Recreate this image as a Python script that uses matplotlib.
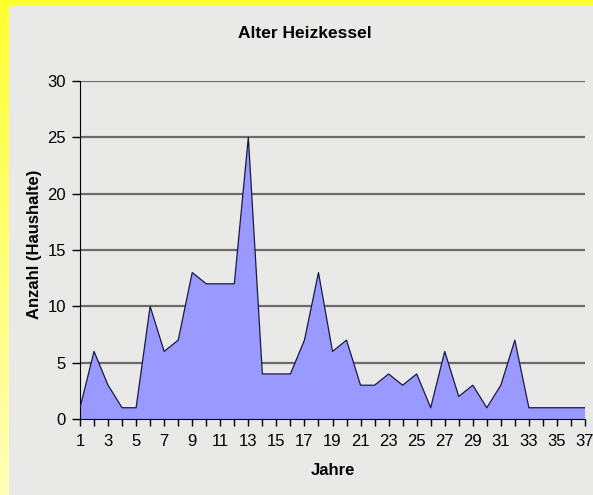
import numpy as np
import matplotlib
matplotlib.use("Agg")
import matplotlib.pyplot as plt
from matplotlib.colors import LinearSegmentedColormap

plt.rcParams['font.family'] = ['Liberation Sans', 'DejaVu Sans']

# data
jahre = list(range(1, 38))
anzahl = [1, 6, 3, 1, 1, 10, 6, 7, 13, 12, 12, 12, 25, 4, 4, 4, 7, 13, 6, 7,
          3, 3, 4, 3, 4, 1, 6, 2, 3, 1, 3, 7, 1, 1, 1, 1, 1]
y_ticks = [0, 5, 10, 15, 20, 25, 30]
x_labels = list(range(1, 38, 2))

W, H = 593, 495
fig = plt.figure(figsize=(W / 100, H / 100), dpi=100)
fig.patch.set_facecolor('#E9E9E7')

# yellow frame strips (left gradient, top solid)
ax_l = fig.add_axes([0, 0, 9 / W, 1])
grad = np.linspace(0, 1, 256).reshape(-1, 1)
cmap = LinearSegmentedColormap.from_list('y', ['#FFFF2E', '#FFFFB8'])
ax_l.imshow(grad, aspect='auto', cmap=cmap, extent=[0, 1, 0, 1], origin='upper')
ax_l.axis('off')
ax_t = fig.add_axes([0, 1 - 5 / H, 1, 5 / H])
ax_t.set_facecolor('#FFFF2E')
ax_t.set_xticks([]); ax_t.set_yticks([])
for s in ax_t.spines.values():
    s.set_visible(False)

ax = fig.add_axes([80 / W, 1 - 419 / H, 505 / W, 338 / H])
ax.set_facecolor('none')

ax.fill_between(jahre, anzahl, 0, facecolor='#9999FF', edgecolor='none', zorder=2)
ax.plot(jahre, anzahl, color='#1a1a40', lw=0.9, zorder=3)

ax.set_xlim(1, 37)
ax.set_ylim(0, 30)
ax.set_yticks(y_ticks)
ax.set_xticks(jahre, minor=True)
ax.set_xticks(x_labels)
ax.tick_params(axis='y', length=6, width=1, labelsize=12, pad=4, direction='out')
ax.tick_params(axis='x', which='both', length=5, width=1, labelsize=12, pad=6,
               direction='out')
ax.grid(axis='y', color='#6a6a6a', lw=1.6, zorder=1)
ax.set_axisbelow(True)

for side in ['top', 'right']:
    ax.spines[side].set_visible(False)
ax.spines['left'].set_color('#000000')
ax.spines['bottom'].set_color('#000000')
ax.spines['bottom'].set_zorder(4)

ax.set_xlabel('Jahre', fontsize=12, fontweight='bold', labelpad=10)
ax.set_ylabel('Anzahl (Haushalte)', fontsize=12, fontweight='bold')
ax.yaxis.set_label_coords((42 - 80) / 505, (419 - 244) / 338)
fig.text(305 / W, 1 - 33 / H, 'Alter Heizkessel', fontsize=12.5, fontweight='bold',
         ha='center', va='center')

fig.savefig('out.png', dpi=100, facecolor=fig.get_facecolor())
